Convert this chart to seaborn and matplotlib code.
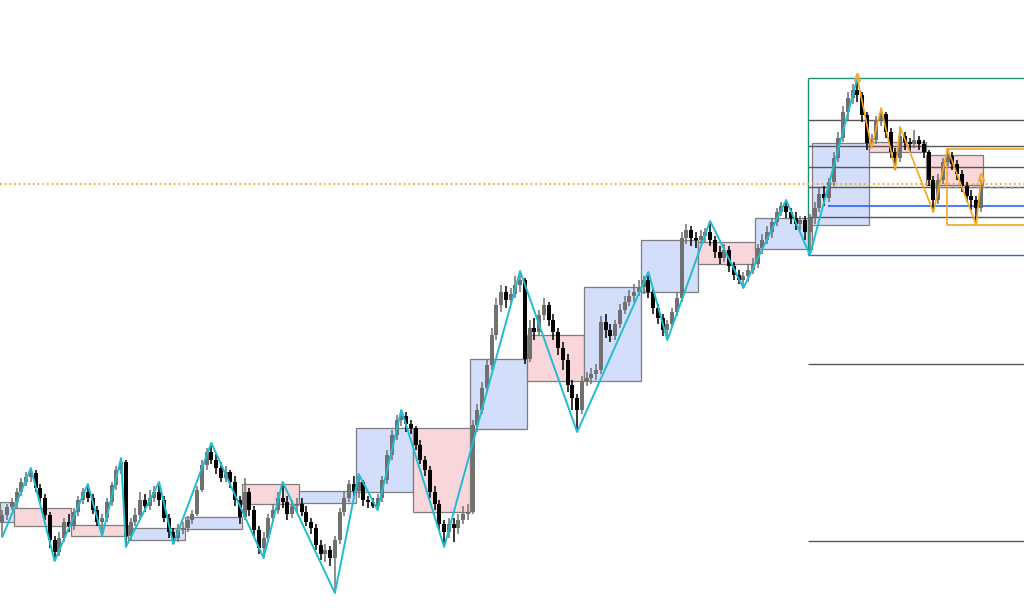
import numpy as np
import pandas as pd
import matplotlib
matplotlib.use("Agg")
import matplotlib.pyplot as plt
import seaborn as sns
from matplotlib.patches import Rectangle

# ---------------- data ----------------
first_open = 88
close = [95, 103, 108,
         118, 128, 133, 137, 122, 112, 95, 70, 58, 72, 88, 84,
         98, 110, 118, 112, 100, 88, 92, 108, 125, 140, 148, 74,
         88, 95, 110, 104, 112, 118, 110, 92, 78, 72, 80, 82,
         90, 96, 120, 145, 158, 150, 142, 132, 138, 128, 110, 93,
         118, 100, 80, 62, 72, 92, 100, 112, 108, 96, 104, 106,
         98, 88, 82, 65, 56, 60, 52, 70, 98, 112, 126, 119,
         128, 110, 108, 104, 112, 130, 155, 175, 190, 194, 186, 182,
         165, 150, 140, 118, 106, 86, 78, 86, 82, 90, 96, 98,
         185, 200, 222, 245, 275, 305, 318, 310, 316, 325, 330, 251,
         282, 278, 295, 305, 290, 278, 262, 250, 225, 212, 200, 229,
         232, 236, 240, 288, 280, 274, 286, 300, 308, 314, 318, 323,
         330, 318, 302, 292, 280, 286, 298, 312, 372, 380, 372, 370,
         374, 378, 370, 358, 352, 360, 344, 335, 330, 334, 340, 346,
         362, 370, 378, 388, 398, 404, 398, 392, 386, 390, 378, 392,
         402, 416, 412, 428, 452, 472, 498, 512, 520, 515, 495, 467,
         470, 490, 496, 478, 458, 452, 474, 468, 466, 470, 466, 458,
         430, 410, 430, 448, 454, 446, 436, 424, 414, 410, 402, 425]
high = [100, 106, 112,
        122, 132, 138, 142, 140, 126, 116, 98, 74, 78, 92, 96,
        102, 114, 122, 126, 116, 104, 96, 112, 128, 144, 152, 150,
        92, 102, 118, 116, 120, 124, 128, 114, 96, 82, 86, 88,
        94, 100, 124, 150, 162, 167, 156, 148, 144, 140, 134, 114,
        132, 122, 104, 84, 78, 96, 106, 118, 128, 114, 110, 112,
        112, 104, 92, 86, 70, 66, 64, 74, 102, 118, 130, 134,
        136, 130, 114, 112, 116, 134, 160, 180, 195, 200, 198, 190,
        184, 170, 154, 144, 124, 110, 90, 92, 92, 96, 104, 106,
        190, 206, 228, 250, 282, 312, 325, 324, 322, 334, 339, 332,
        290, 292, 300, 312, 308, 296, 282, 268, 256, 230, 216, 234,
        238, 242, 246, 294, 296, 286, 290, 306, 314, 320, 326, 330,
        334, 338, 322, 306, 296, 290, 302, 318, 378, 386, 384, 378,
        380, 382, 389, 374, 364, 366, 364, 348, 340, 338, 346, 352,
        366, 376, 384, 392, 402, 408, 410, 402, 398, 394, 394, 396,
        408, 422, 424, 432, 458, 478, 504, 518, 526, 532, 518, 498,
        476, 494, 502, 498, 482, 462, 483, 478, 472, 480, 474, 470,
        460, 434, 436, 452, 461, 458, 450, 440, 428, 420, 414, 430]
low = [73, 90, 100,
       102, 114, 124, 128, 118, 106, 90, 62, 49, 54, 68, 78,
       80, 94, 106, 108, 96, 84, 74, 88, 104, 120, 136, 63,
       70, 84, 90, 98, 100, 108, 104, 88, 72, 66, 68, 76,
       78, 86, 94, 118, 140, 146, 136, 128, 128, 122, 104, 86,
       90, 94, 74, 56, 52, 68, 88, 96, 102, 90, 92, 98,
       94, 84, 76, 60, 50, 48, 44, 17, 66, 94, 108, 114,
       112, 104, 102, 102, 100, 108, 126, 150, 170, 184, 178, 176,
       160, 146, 134, 112, 100, 80, 63, 72, 68, 76, 86, 90,
       96, 178, 196, 218, 240, 270, 298, 302, 306, 312, 318, 246,
       248, 270, 274, 290, 284, 270, 255, 240, 218, 200, 178, 196,
       224, 226, 230, 236, 272, 268, 270, 282, 296, 304, 308, 314,
       316, 312, 296, 286, 274, 270, 282, 294, 308, 366, 364, 362,
       366, 368, 364, 352, 346, 348, 338, 330, 326, 322, 328, 336,
       342, 356, 366, 372, 384, 394, 392, 386, 380, 380, 370, 355,
       386, 398, 404, 408, 424, 448, 468, 490, 506, 508, 488, 460,
       462, 466, 484, 472, 452, 440, 448, 460, 458, 462, 460, 452,
       424, 398, 406, 426, 444, 440, 430, 418, 408, 400, 385, 398]

# period boxes (first one partial, 3 bars; then 12 bars each)
box_open = [88, 102, 85, 70, 81, 126, 107, 118, 182, 181, 275, 229, 318, 368, 361, 385, 468, 455]
box_close = [108, 84, 74, 82, 93, 106, 119, 182, 98, 251, 229, 323, 370, 346, 392, 467, 458, 425]

# zigzag pivots (bar index, price)
zz_idx = [0, 6, 11, 18, 21, 25, 26, 33, 36, 44, 55, 59, 70, 75, 79, 84, 93, 109, 121, 136, 140, 149, 156, 165, 170, 180]
zz_val = [73, 142, 49, 126, 74, 152, 63, 128, 66, 167, 52, 128, 17, 136, 100, 200, 63, 339, 178, 338, 270, 389, 322, 410, 355, 532]
oz_idx = [180, 183, 185, 188, 189, 196, 199, 205, 206]
oz_val = [532, 462, 502, 440, 483, 398, 461, 385, 430]

# fibonacci tool
fib_high, fib_low = 532, 355
fib_ratios = [0, 0.236, 0.382, 0.5, 0.618, 0.786, 1, 1.618, 2.618]
fib_start = 169.6
support_level, support_start = 404, 173.8
last_price_line = 426
current_line, current_start = 423, 196
range_box = (198.9, 385, 461)

# ---------------- plot ----------------
sns.set_theme(style="white")
n = len(close)
opens = [first_open] + close[:-1]
df = pd.DataFrame({"i": np.arange(n), "open": opens, "close": close, "high": high, "low": low})
df["up"] = df["close"] >= df["open"]

fig = plt.figure(figsize=(10.24, 6.10), dpi=100)
ax = fig.add_axes([0, 0, 1, 1])
xmax = 1024 / 4.75 - 0.5
ax.set_xlim(-0.5, xmax)
ax.set_ylim(0, 610)
ax.axis("off")

# boxes
blue_fill, red_fill, edge = "#d3defb", "#f8d6da", "#7d7d7d"
for k, (bo, bc) in enumerate(zip(box_open, box_close)):
    if k == 0:
        x0, x1 = -0.5, 2.5
    else:
        x0 = 2.5 + 12 * (k - 1)
        x1 = x0 + 12
    fc = blue_fill if bc > bo else red_fill
    ax.add_patch(Rectangle((x0, min(bo, bc)), x1 - x0, abs(bc - bo), facecolor=fc,
                           edgecolor=edge, linewidth=0.9, zorder=1))

# fib levels
for r in fib_ratios:
    lvl = fib_high - r * (fib_high - fib_low)
    if r == 0:
        col = "#1f8f73"
    elif r == 1:
        col = "#2962ff"
    else:
        col = "#555555"
    ax.hlines(lvl, fib_start, xmax, colors=col, linewidth=1.0, zorder=2)
ax.vlines(fib_start, fib_low, fib_high, colors="#1f8f73", linewidth=1.0, zorder=2)
ax.hlines(support_level, support_start, xmax, colors="#2962ff", linewidth=1.2, zorder=2)
ax.hlines(last_price_line, -0.5, xmax, colors="#f5a623", linewidth=1.3,
          linestyles=(0, (1, 1.6)), zorder=2)
ax.hlines(current_line, current_start, xmax, colors="#8a8ab8", linewidth=1.0,
          linestyles=(0, (3, 2)), zorder=2)
ax.add_patch(Rectangle((range_box[0], range_box[1]), xmax - range_box[0] + 1,
                       range_box[2] - range_box[1], facecolor="none",
                       edgecolor="#f5a623", linewidth=1.2, zorder=2))

# candles
cols = np.where(df["up"], "#707070", "#000000")
ax.vlines(df["i"], df["low"], df["high"], colors=cols, linewidth=1.1, zorder=3)
body_lo = np.minimum(df["open"], df["close"])
body_h = np.maximum(np.abs(df["close"] - df["open"]), 1.5)
ax.bar(df["i"], body_h, bottom=body_lo, width=0.85, color=cols, linewidth=0, zorder=3)

# zigzags
sns.lineplot(x=zz_idx, y=zz_val, sort=False, color="#1fbcd2", linewidth=1.4, ax=ax, zorder=4)
sns.lineplot(x=oz_idx, y=oz_val, sort=False, color="#f5a623", linewidth=1.2, ax=ax, zorder=4)
ax.plot([oz_idx[0]], [oz_val[0] + 1], marker=r"$\wedge$", color="#f5a623", markersize=6,
        markeredgewidth=0.4, zorder=5)
ax.plot([oz_idx[-1]], [oz_val[-1] + 3], marker=r"$\wedge$", color="#f5a623", markersize=6,
        markeredgewidth=0.4, zorder=5)

fig.savefig("out.png", dpi=100)
